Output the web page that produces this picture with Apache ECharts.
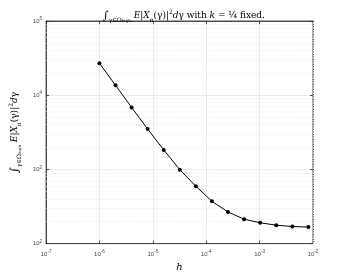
<!DOCTYPE html>
<html>
<head>
<meta charset="utf-8">
<script src="https://cdn.jsdelivr.net/npm/echarts@6/dist/echarts.min.js"></script>
<style>
  html, body { margin: 0; padding: 0; background: #fff; }
  #chart { width: 346px; height: 277px; }
</style>
</head>
<body>
<div id="chart"></div>
<script>
// 数据
const hValues = [1e-6, 2e-6, 4e-6, 8e-6, 1.6e-5, 3.2e-5, 6.4e-5, 1.28e-4, 2.56e-4, 5.12e-4, 1.024e-3, 2.048e-3, 4.096e-3, 8.192e-3];
const integralValues = [26900, 13600, 6850, 3490, 1830, 990, 593, 371, 267, 213, 191, 177, 170, 167];
const xDecades = [-7, -6, -5, -4, -3, -2];
const yDecades = [2, 3, 4, 5];

// 刻度标签 10^n
function powLabel(v) {
    return '{b|10}{e|' + Math.round(Math.log10(v)) + '}';
}

// 次网格线（对数刻度 2..9）
function minorLines(decades, key) {
    const out = [];
    for (let i = 0; i < decades.length - 1; i++) {
        for (let m = 2; m <= 9; m++) {
            const o = {};
            o[key] = m * Math.pow(10, decades[i]);
            out.push(o);
        }
    }
    return out;
}

const serif = 'DejaVu Serif';
const base = { fontFamily: serif, fontWeight: 'normal', color: '#000', lineHeight: 14 };
const richMath = {
    t: Object.assign({}, base, { fontSize: 9 }),
    it: Object.assign({}, base, { fontStyle: 'italic', fontSize: 9 }),
    big: Object.assign({}, base, { fontSize: 11 }),
    sub: Object.assign({}, base, { fontSize: 6, verticalAlign: 'bottom' }),
    subsub: Object.assign({}, base, { fontSize: 4, verticalAlign: 'bottom' }),
    sup: Object.assign({}, base, { fontSize: 6, verticalAlign: 'top' })
};
const richTick = {
    b: { fontSize: 6, color: '#444', fontFamily: 'Liberation Sans', lineHeight: 9 },
    e: { fontSize: 4.5, color: '#444', fontFamily: 'Liberation Sans', lineHeight: 9, verticalAlign: 'top' }
};

const chart = echarts.init(document.getElementById('chart'));

const axisCommon = {
    type: 'log',
    logBase: 10,
    axisLine: { show: true, onZero: false, lineStyle: { color: '#262626', width: 0.8 } },
    axisTick: { show: true, inside: true, length: 3, lineStyle: { color: '#262626', width: 0.8 } },
    splitLine: { show: true, lineStyle: { color: '#e6e6e6', width: 0.8 } },
    axisLabel: { formatter: powLabel, rich: richTick }
};

chart.setOption({
    animation: false,
    title: {
        text: '{big|∫}{sub|γ∈Ω}{subsub|high}{t| }{it|E}{t||}{it|X}{sub|n}{t|(γ)|}{sup|2}{it|d}{t|γ with }{it|k}{t| = ¼ fixed.}',
        left: 179,
        top: 4,
        textAlign: 'center',
        textStyle: { fontWeight: 'normal', rich: richMath }
    },
    grid: { left: 45, right: 33, top: 21, bottom: 31, show: true, borderColor: '#262626', borderWidth: 0.8 },
    xAxis: [
        Object.assign({}, axisCommon, {
            min: 1e-7, max: 1e-2,
            name: 'h',
            nameLocation: 'middle',
            nameGap: 14,
            nameTextStyle: { fontFamily: serif, fontStyle: 'italic', fontSize: 10, color: '#000' },
            axisLabel: Object.assign({}, axisCommon.axisLabel, { margin: 6 })
        }),
        Object.assign({}, axisCommon, {
            position: 'top', min: 1e-7, max: 1e-2,
            axisLabel: { show: false }, splitLine: { show: false }
        })
    ],
    yAxis: [
        Object.assign({}, axisCommon, {
            min: 100, max: 100000,
            name: '{big|∫}{sub|γ∈Ω}{subsub|high}{t| }{it|E}{t||}{it|X}{sub|n}{t|(γ)|}{sup|2}{it|d}{t|γ}',
            nameLocation: 'middle',
            nameRotate: 90,
            nameGap: 20,
            nameTextStyle: { rich: richMath },
            axisLabel: Object.assign({}, axisCommon.axisLabel, { margin: 4 })
        }),
        Object.assign({}, axisCommon, {
            position: 'right', min: 100, max: 100000,
            axisLabel: { show: false }, splitLine: { show: false }
        })
    ],
    series: [
        {
            type: 'line',
            data: [],
            silent: true,
            markLine: {
                silent: true,
                symbol: 'none',
                label: { show: false },
                animation: false,
                lineStyle: { color: '#e3e3e3', type: [1, 1.5], width: 0.7 },
                data: minorLines(xDecades, 'xAxis').concat(minorLines(yDecades, 'yAxis'))
            }
        },
        {
            type: 'line',
            data: hValues.map((h, i) => [h, integralValues[i]]),
            symbol: 'circle',
            symbolSize: 4,
            itemStyle: { color: '#000' },
            lineStyle: { color: '#000', width: 1 },
            z: 5
        }
    ]
});
</script>
</body>
</html>
